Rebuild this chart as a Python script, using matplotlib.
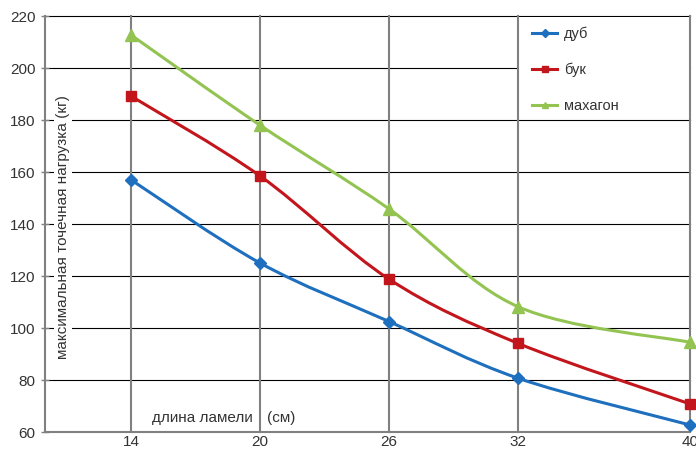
import matplotlib
matplotlib.use("Agg")
import matplotlib.pyplot as plt
from matplotlib.path import Path
from matplotlib.patches import PathPatch, Rectangle
from matplotlib.lines import Line2D

plt.rcParams['font.family'] = ['Liberation Sans', 'DejaVu Sans']

# длина ламели (см)
lengths = [14, 20, 26, 32, 40]
# максимальная точечная нагрузка (кг)
oak = [157, 125, 102.5, 80.7, 62.7]
beech = [189.2, 158.5, 118.8, 94.1, 70.8]
mahogany = [212.7, 178, 145.8, 108.2, 94.5]

series_names = ["дуб", "бук", "махагон"]
y_ticks = [60, 80, 100, 120, 140, 160, 180, 200, 220]

TEXT = "#333333"


def smooth_path(xs, ys):
    # кривая Безье через точки (как сглаженная линия в Excel)
    pts = list(zip(xs, ys))
    n = len(pts)
    verts = [pts[0]]
    codes = [Path.MOVETO]
    for i in range(n - 1):
        p0 = pts[max(i - 1, 0)]
        p1 = pts[i]
        p2 = pts[i + 1]
        p3 = pts[min(i + 2, n - 1)]
        c1 = (p1[0] + (p2[0] - p0[0]) / 6, p1[1] + (p2[1] - p0[1]) / 6)
        c2 = (p2[0] - (p3[0] - p1[0]) / 6, p2[1] - (p3[1] - p1[1]) / 6)
        verts += [c1, c2, p2]
        codes += [Path.CURVE4] * 3
    return Path(verts, codes)


fig = plt.figure(figsize=(6.96, 4.5), dpi=100)
ax = fig.add_axes([45 / 696, 1 - 432 / 450, 645 / 696, 416 / 450])
ax.set_xlim(10, 40)
ax.set_ylim(60, 220)

for s in ["top", "right"]:
    ax.spines[s].set_visible(False)
for s in ["left", "bottom"]:
    ax.spines[s].set_color("#808080")
    ax.spines[s].set_linewidth(1.5)
    ax.spines[s].set_zorder(3)

# сетка
for y in y_ticks[1:]:
    ax.axhline(y, color="black", lw=0.8, zorder=1, clip_on=False)
for x in lengths:
    ax.axvline(x, color="#808080", lw=1.5, zorder=2, clip_on=False)

# белый фон под легендой
ax.add_patch(Rectangle((32.05, 180.8), 7.9, 38.9, facecolor="white",
                       edgecolor="none", zorder=1.5))

ax.set_xticks(lengths)
ax.set_yticks(y_ticks)
ax.tick_params(axis="x", length=0, pad=2, labelsize=11, labelcolor=TEXT)
ax.tick_params(axis="y", direction="inout", length=6, width=1, color="#808080",
               pad=4, labelsize=11, labelcolor=TEXT)

styles = [
    ("#1e6fbe", "D", 6.5),
    ("#c3161c", "s", 6.5),
    ("#93c452", "^", 8),
]
handles = []
for ys, name, (color, marker, ms) in zip([oak, beech, mahogany], series_names, styles):
    ax.add_patch(PathPatch(smooth_path(lengths, ys), facecolor="none",
                           edgecolor=color, lw=2.2, zorder=4,
                           capstyle="round", joinstyle="round"))
    ax.plot(lengths, ys, linestyle="none", marker=marker, ms=ms, color=color,
            zorder=5, clip_on=False)
    handles.append(Line2D([], [], color=color, lw=2.2, marker=marker, ms=4))

leg = ax.legend(handles, series_names, loc="upper left",
                bbox_to_anchor=(0.735, 1.006), frameon=False, fontsize=10.5,
                labelspacing=1.48, handlelength=1.7, handletextpad=0.5,
                labelcolor=TEXT)
leg.set_zorder(6)

ax.text(10.83, 139, "максимальная точечная нагрузка (кг)", rotation=90,
        ha="center", va="center", fontsize=11, color=TEXT, zorder=3,
        bbox=dict(facecolor="white", edgecolor="none", pad=1.5))
ax.text(15.0, 65.4, "длина ламели", ha="left", va="center",
        fontsize=11, color=TEXT, zorder=3)
ax.text(20.33, 65.4, "(см)", ha="left", va="center",
        fontsize=11, color=TEXT, zorder=3)

fig.savefig("out.png", dpi=100)
